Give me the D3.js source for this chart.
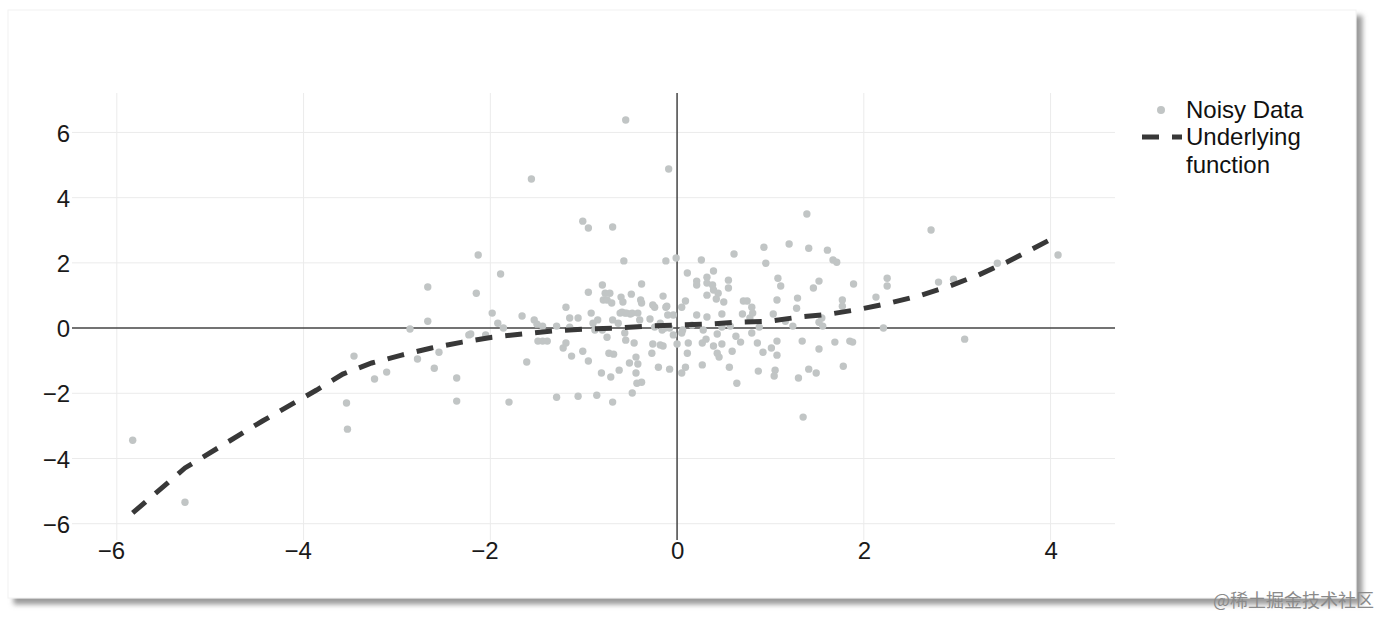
<!DOCTYPE html>
<html>
<head>
<meta charset="utf-8">
<script src="https://cdn.jsdelivr.net/npm/d3@7"></script>
<style>
  html, body { margin: 0; padding: 0; background: #ffffff; }
  svg { display: block; font-family: "Liberation Sans", Arial, Helvetica, sans-serif; }
</style>
</head>
<body>
<svg id="chart" width="1379" height="617"></svg>
<script>
// noisy data (x, y)
var noisyX = [-5.83,-5.27,-3.54,-3.53,-3.46,-3.24,-3.11,-2.86,-2.78,-2.67,-2.67,-2.60,-2.55,-2.36,-2.36,-2.23,-2.15,-2.13,-1.89,-1.56,
  -0.55,-0.09,-1.01,-0.95,-0.69,-2.21,-2.05,-1.98,-1.92,-1.86,-1.80,-1.66,-1.61,-1.53,-1.50,-1.44,-1.49,-1.44,-1.39,-1.29,
  -1.29,-1.22,-1.19,-1.19,-1.15,-1.15,-1.13,-1.06,-1.06,-1.01,-0.95,-0.95,-0.92,-0.90,-0.86,-0.85,-0.88,-0.80,-0.81,-0.80,
  -0.79,-0.77,-0.75,-0.72,-0.70,-0.75,-0.73,-0.68,-0.71,-0.69,-0.62,-0.60,-0.58,-0.57,-0.56,-0.55,-0.61,-0.56,-0.51,-0.49,
  -0.48,-0.50,-0.46,-0.44,-0.44,-0.42,-0.43,-0.38,-0.40,-0.39,-0.38,-0.38,-0.29,-0.27,-0.26,-0.24,-0.20,-0.18,-0.16,-0.15,
  -0.15,-0.12,-0.12,-0.08,-0.04,-0.01,0.00,-0.69,-0.63,-0.59,-0.54,-0.48,-0.42,-0.24,-0.18,-0.13,-0.08,-0.04,-0.10,-0.26,
  -0.11,1.39,0.26,0.61,0.93,1.20,1.41,1.61,1.67,1.71,0.95,0.11,0.39,0.21,0.21,0.32,0.32,0.38,0.39,0.44,
  0.55,0.55,0.32,0.42,0.09,0.50,0.71,0.75,0.80,1.07,1.08,1.11,1.29,1.52,1.46,1.77,1.89,2.13,0.05,1.28,
  1.77,0.21,0.32,0.48,0.70,0.78,0.81,1.03,1.16,1.55,1.52,0.06,0.05,0.16,0.28,0.48,0.43,0.57,0.63,0.80,
  0.88,1.24,1.56,0.12,0.27,0.31,0.39,0.48,0.68,0.86,1.07,1.34,1.69,1.85,0.11,0.43,0.45,0.59,0.92,1.01,
  1.07,1.52,0.27,0.09,0.56,0.87,1.05,1.04,1.41,1.49,1.78,0.05,0.64,1.30,1.35,2.72,2.25,2.25,2.80,2.96,
  3.43,2.21,1.88,3.08,4.08];
var noisyY = [-3.44,-5.34,-2.30,-3.10,-0.86,-1.56,-1.35,-0.03,-0.95,1.26,0.21,-1.23,-0.74,-1.53,-2.24,-0.21,1.07,2.24,1.66,4.57,
  6.38,4.88,3.28,3.07,3.10,-0.18,-0.21,0.46,0.15,0.00,-2.27,0.37,-1.04,0.25,0.12,0.06,-0.40,-0.40,-0.40,0.06,
  -2.12,-0.61,-0.46,0.64,0.31,0.03,-0.86,0.31,-2.09,-0.71,1.10,-1.01,0.46,0.15,-2.06,0.25,-0.06,-0.06,-1.38,1.32,
  0.86,1.07,0.86,1.07,0.77,-0.28,-0.77,-0.80,-1.50,-2.27,-1.29,0.95,0.80,2.06,-0.15,-0.37,0.46,0.46,-1.07,1.04,
  -1.99,0.43,-0.46,-0.89,-1.38,-1.10,-1.69,-1.66,0.25,0.86,1.35,0.77,0.28,-0.77,-0.49,0.64,-1.20,-0.52,-0.06,0.98,
  -0.55,2.06,0.64,-1.26,0.40,2.15,-0.49,0.25,0.15,0.49,0.46,0.46,0.46,0.03,0.15,0.00,0.00,-0.21,0.40,0.71,
  0.67,3.50,2.09,2.27,2.48,2.58,2.45,2.39,2.09,2.02,1.99,1.69,1.75,1.44,1.32,1.56,1.38,1.32,1.17,1.07,
  1.47,1.23,1.01,0.89,0.83,0.80,0.83,0.83,0.64,0.86,1.53,1.29,0.92,1.44,1.23,0.86,1.35,0.95,0.64,0.61,
  0.67,0.40,0.34,0.43,0.43,0.31,0.46,0.43,0.21,0.31,0.18,-0.06,-0.15,0.09,-0.06,0.03,-0.18,0.06,-0.25,-0.15,
  0.03,0.06,0.06,-0.46,-0.46,-0.34,-0.55,-0.49,-0.43,-0.46,-0.40,-0.40,-0.43,-0.40,-0.77,-0.77,-0.89,-0.71,-0.74,-0.61,
  -0.83,-0.64,-1.13,-1.20,-1.20,-1.32,-1.29,-1.47,-1.26,-1.38,-1.17,-1.38,-1.69,-1.53,-2.73,3.01,1.53,1.29,1.41,1.50,
  1.99,0.00,-0.43,-0.34,2.24];

// underlying function
var funcX = [-5.83,-5.27,-4.44,-3.86,-3.58,-3.27,-2.95,-2.63,-2.30,-1.98,-1.65,-1.33,-1.00,-0.68,-0.33,-0.02,
  0.32,0.65,0.99,1.31,1.64,1.96,2.28,2.58,2.92,3.23,3.53,3.82,4.07];
var funcY = [-5.67,-4.29,-2.85,-1.90,-1.41,-1.07,-0.83,-0.61,-0.43,-0.28,-0.18,-0.09,-0.03,0.00,0.06,0.09,
  0.12,0.18,0.21,0.34,0.43,0.58,0.77,0.98,1.29,1.63,2.02,2.45,2.82];

var xTicks = [-6, -4, -2, 0, 2, 4];
var yTicks = [-6, -4, -2, 0, 2, 4, 6];
var legendNames = ["Noisy Data", "Underlying", "function"];

var pointColor = "#c1c5c5";
var lineColor = "#383838";

var svg = d3.select("#chart");

// card with shadow
var defs = svg.append("defs");
var shadow = defs.append("filter")
  .attr("id", "cardshadow")
  .attr("x", "-5%").attr("y", "-5%")
  .attr("width", "110%").attr("height", "115%");
shadow.append("feDropShadow")
  .attr("dx", 6).attr("dy", 6)
  .attr("stdDeviation", 2.5)
  .attr("flood-color", "#7a7a7a")
  .attr("flood-opacity", 0.75);

svg.append("rect")
  .attr("x", 8).attr("y", 10)
  .attr("width", 1348).attr("height", 588)
  .attr("fill", "#ffffff")
  .attr("stroke", "#f2f2f2")
  .attr("filter", "url(#cardshadow)");

// scales
var x = d3.scaleLinear().domain([-6.48, 4.69]).range([72, 1115]);
var y = d3.scaleLinear().domain([-6.5, 7.21]).range([540, 93]);

var fmt = function(d){ return d < 0 ? "\u2212" + Math.abs(d) : String(d); };

// grid
var grid = svg.append("g").attr("class", "grid");
grid.selectAll(".vgrid")
  .data(xTicks.filter(function(d){ return d !== 0; })).enter()
  .append("line")
  .attr("x1", function(d){ return x(d); })
  .attr("x2", function(d){ return x(d); })
  .attr("y1", y.range()[1]).attr("y2", y.range()[0])
  .attr("stroke", "#ebebeb").attr("stroke-width", 1);
grid.selectAll(".hgrid")
  .data(yTicks.filter(function(d){ return d !== 0; })).enter()
  .append("line")
  .attr("y1", function(d){ return y(d); })
  .attr("y2", function(d){ return y(d); })
  .attr("x1", x.range()[0]).attr("x2", x.range()[1])
  .attr("stroke", "#ebebeb").attr("stroke-width", 1);

// zero lines
grid.append("line")
  .attr("x1", x(0)).attr("x2", x(0))
  .attr("y1", y.range()[1]).attr("y2", y.range()[0])
  .attr("stroke", "#444").attr("stroke-width", 1.5);
grid.append("line")
  .attr("y1", y(0)).attr("y2", y(0))
  .attr("x1", x.range()[0]).attr("x2", x.range()[1])
  .attr("stroke", "#444").attr("stroke-width", 1.5);

// tick labels through axes, no domain lines
var xAxis = svg.append("g")
  .attr("transform", "translate(0," + 540 + ")")
  .call(d3.axisBottom(x).tickValues(xTicks).tickFormat(fmt).tickSize(0).tickPadding(0));
var yAxis = svg.append("g")
  .attr("transform", "translate(" + 72 + ",0)")
  .call(d3.axisLeft(y).tickValues(yTicks).tickFormat(fmt).tickSize(0).tickPadding(2));
[xAxis, yAxis].forEach(function(a){
  a.select(".domain").remove();
  a.selectAll("text")
    .attr("font-family", "Liberation Sans, Arial, sans-serif")
    .attr("font-size", "24px")
    .attr("fill", "#1a1a1a");
});
xAxis.selectAll("text")
  .attr("dy", null).attr("y", 19)
  .attr("dx", function(d){ return d < 0 ? -6 : 0; });
yAxis.selectAll("text").attr("dy", "0.36em");

// noisy points
var pts = d3.range(noisyX.length).map(function(i){ return {x: noisyX[i], y: noisyY[i]}; });
svg.append("g").attr("class", "points")
  .selectAll("circle")
  .data(pts).enter()
  .append("circle")
  .attr("cx", function(d){ return x(d.x); })
  .attr("cy", function(d){ return y(d.y); })
  .attr("r", 3.7)
  .attr("fill", pointColor);

// underlying function (dashed)
var fn = d3.range(funcX.length).map(function(i){ return [funcX[i], funcY[i]]; });
var lineGen = d3.line()
  .x(function(d){ return x(d[0]); })
  .y(function(d){ return y(d[1]); });
svg.append("path")
  .datum(fn)
  .attr("d", lineGen)
  .attr("fill", "none")
  .attr("stroke", lineColor)
  .attr("stroke-width", 5)
  .attr("stroke-dasharray", "17,13");

// legend
var legend = svg.append("g").attr("class", "legend");
legend.append("circle")
  .attr("cx", 1161).attr("cy", 110).attr("r", 4)
  .attr("fill", pointColor);
legend.append("line")
  .attr("x1", 1142).attr("x2", 1182)
  .attr("y1", 137).attr("y2", 137)
  .attr("stroke", lineColor).attr("stroke-width", 5)
  .attr("stroke-dasharray", "17,13");
legend.selectAll("text")
  .data(legendNames).enter()
  .append("text")
  .attr("x", 1186)
  .attr("y", function(d,i){ return [118, 145, 173][i]; })
  .attr("font-size", "24px")
  .attr("fill", "#111")
  .text(function(d){ return d; });

// watermark
svg.append("text")
  .attr("x", 1213).attr("y", 607)
  .attr("font-family", "Noto Sans CJK SC, sans-serif")
  .attr("font-size", "18px")
  .attr("fill", "#8a8a8a")
  .text("@稀土掘金技术社区");
</script>
</body>
</html>
